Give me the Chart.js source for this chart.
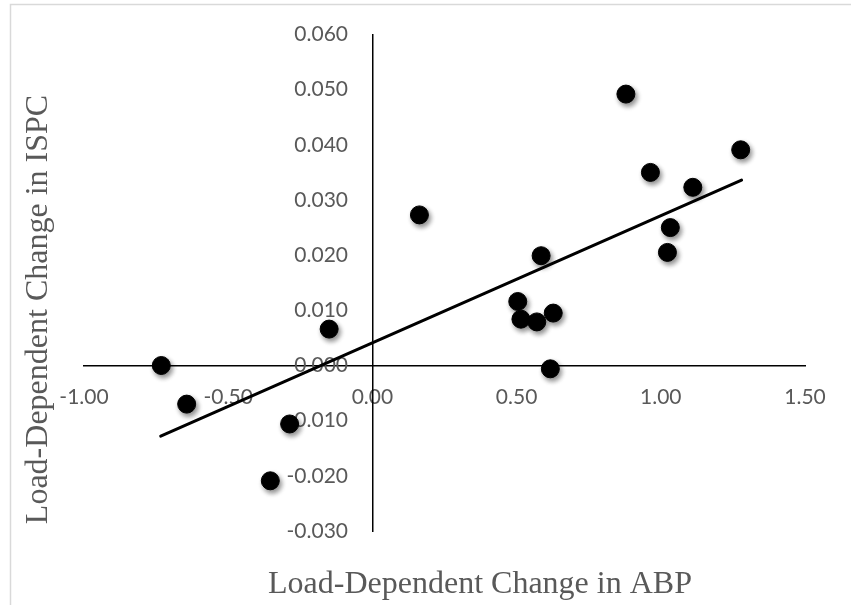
<!DOCTYPE html>
<html>
<head>
<meta charset="utf-8">
<script src="https://cdn.jsdelivr.net/npm/chart.js@4.4.1/dist/chart.umd.min.js"></script>
<style>
  html, body { margin: 0; padding: 0; background: #fff; }
  #wrap { position: relative; width: 851px; height: 605px; }
</style>
</head>
<body>
<div id="wrap"><canvas id="chart"></canvas></div>
<script>
// load-dependent change in ABP (x) vs ISPC (y), one pair per subject
const abpChange = [-0.732, -0.644, -0.354, -0.287, -0.150, 0.163, 0.504, 0.515, 0.570,
  0.585, 0.617, 0.627, 0.879, 0.964, 1.023, 1.033, 1.111, 1.277];
const ispcChange = [0.0000, -0.0070, -0.0209, -0.0106, 0.0066, 0.0273, 0.0116, 0.0084, 0.0079,
  0.0199, -0.0006, 0.0095, 0.0492, 0.0350, 0.0205, 0.0250, 0.0323, 0.0391];

// linear trend line end points
const trendX = [-0.734, 1.280];
const trendY = [-0.0128, 0.0336];

const xTicks = [-1.0, -0.5, 0, 0.5, 1.0, 1.5];
const yTicks = [-0.03, -0.02, -0.01, 0, 0.01, 0.02, 0.03, 0.04, 0.05, 0.06];

const xTitle = "Load-Dependent Change in ABP";
const yTitle = "Load-Dependent Change in ISPC";

const points = abpChange.map((x, i) => ({ x: x, y: ispcChange[i] }));
const trend = trendX.map((x, i) => ({ x: x, y: trendY[i] }));

const tickFont = { family: "Lato", size: 21 };
const grey = "#595959";

function fmt(v, digits) {
  const s = Math.abs(v) < 1e-9 ? 0 : v;
  return s.toFixed(digits);
}

// soft drop shadow under the scatter dots
const dotShadow = {
  id: "dotShadow",
  beforeDatasetDraw(chart, args) {
    if (args.index !== 0) return;
    const ctx = chart.ctx;
    ctx.save();
    ctx.shadowColor = "rgba(0,0,0,0.45)";
    ctx.shadowBlur = 5;
    ctx.shadowOffsetX = 2;
    ctx.shadowOffsetY = 3;
  },
  afterDatasetDraw(chart, args) {
    if (args.index !== 0) return;
    chart.ctx.restore();
  }
};

// outer frame and the two axis titles
const frameAndTitles = {
  id: "frameAndTitles",
  beforeDraw(chart) {
    const ctx = chart.ctx;
    ctx.save();
    ctx.strokeStyle = "#d9d9d9";
    ctx.lineWidth = 1.5;
    ctx.strokeRect(10.5, 4.5, 1000, 1000);
    ctx.restore();
  },
  afterDraw(chart) {
    const ctx = chart.ctx;
    ctx.save();
    ctx.fillStyle = grey;
    ctx.font = '32px "Liberation Serif"';
    ctx.textAlign = "center";
    ctx.textBaseline = "alphabetic";
    ctx.fillText(xTitle, 480, 593);
    ctx.translate(47, 309.5);
    ctx.rotate(-Math.PI / 2);
    ctx.fillText(yTitle, 0, 0);
    ctx.restore();
  }
};

new Chart(document.getElementById("chart"), {
  type: "scatter",
  data: {
    datasets: [
      {
        label: "Subjects",
        data: points,
        backgroundColor: "#000",
        borderColor: "#000",
        borderWidth: 1,
        pointRadius: 9,
        pointHoverRadius: 9,
        order: 2
      },
      {
        label: "Linear trend",
        type: "line",
        data: trend,
        borderColor: "#000",
        borderWidth: 3,
        borderCapStyle: "round",
        pointRadius: 0,
        fill: false,
        order: 1
      }
    ]
  },
  options: {
    responsive: true,
    maintainAspectRatio: false,
    animation: false,
    layout: { padding: { left: 84, right: 46, top: 34.5, bottom: 74 } },
    plugins: {
      legend: { display: false },
      tooltip: { enabled: false }
    },
    scales: {
      x: {
        type: "linear",
        position: { y: 0 },
        min: -1,
        max: 1.5,
        afterBuildTicks: (scale) => { scale.ticks = xTicks.map(v => ({ value: v })); },
        grid: { display: false, drawTicks: false },
        border: { display: true, color: "#000", width: 1.5 },
        ticks: {
          color: grey,
          font: tickFont,
          padding: 19,
          maxRotation: 0,
          callback: (v) => fmt(v, 2)
        }
      },
      y: {
        type: "linear",
        position: { x: 0 },
        min: -0.03,
        max: 0.06,
        afterBuildTicks: (scale) => { scale.ticks = yTicks.map(v => ({ value: v })); },
        grid: { display: false, drawTicks: false },
        border: { display: true, color: "#000", width: 1.5 },
        ticks: {
          color: grey,
          font: tickFont,
          // labels of an axis placed at a value sit flush on the line, so pad with figure spaces
          callback: (v) => fmt(v, 3) + "\u2007\u2007"
        }
      }
    }
  },
  plugins: [dotShadow, frameAndTitles]
});
</script>
</body>
</html>
